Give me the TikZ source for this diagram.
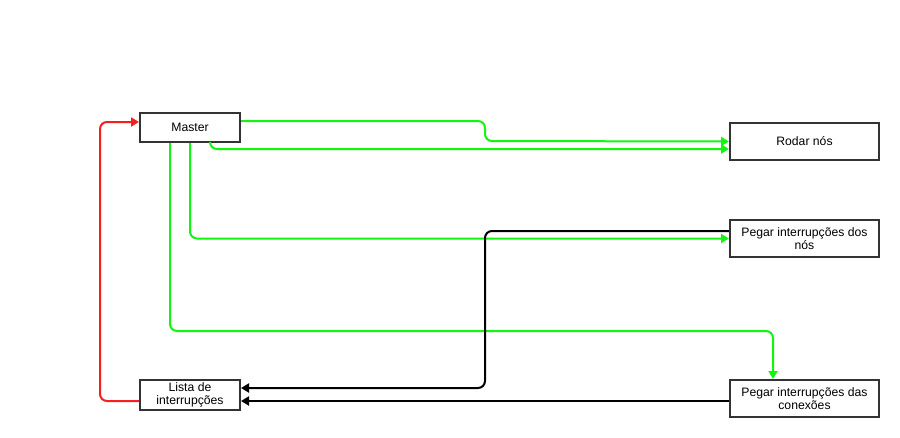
\documentclass[tikz,border=0pt]{standalone}
\usepackage{fontspec}
\setmainfont{Liberation Sans}
\usetikzlibrary{arrows.meta,positioning}

\definecolor{boxline}{HTML}{333333}
\definecolor{flowgreen}{HTML}{11F511}
\definecolor{flowred}{HTML}{F51F1F}

\begin{document}
\begin{tikzpicture}[
        x=1pt, y=-1pt,
        box/.style={draw=boxline, line width=2pt, fill=white, align=center,
          font=\fontsize{12.2}{13.5}\selectfont, inner sep=1pt},
        small/.style={box, minimum width=100pt, minimum height=29pt},
        wide/.style={box, minimum width=149pt, minimum height=37pt},
        arr/.style={-{Triangle[length=8pt,width=9pt]}, line width=2pt, rounded corners=7pt},
        garr/.style={arr, draw=flowgreen},
        karr/.style={arr, draw=black}
      ]
        \useasboundingbox (0,0) rectangle (900,437);
        \node[small] (master) at (190,127.5) {Master};
        \node[small, minimum height=30pt] (lista) at (190,395) {Lista de\\interrupções};
        \node[wide] (rodar) at (804.5,141.5) {Rodar nós};
        \node[wide] (dos) at (804.5,238.5) {Pegar interrupções dos\\nós};
        \node[wide] (conex) at (804.5,398.5) {Pegar interrupções das\\conexões};
        % green flows out of the master
        \draw[garr] ([yshift=6.5pt]master.east) -- (485,121) -- (485,141) -- (rodar.west);
        \draw[garr] ([xshift=20pt]master.south) |- ([yshift=-7.5pt]rodar.west);
        \draw[garr] (master.south) |- (dos.west);
        \draw[garr] ([xshift=-20pt]master.south) -- (170,331) -| ([xshift=-31.5pt]conex.north);
        % black flows into the list
        \draw[karr] ([yshift=7.5pt]dos.west) -| (485,388) -- ([yshift=7pt]lista.east);
        \draw[karr] ([yshift=-2.5pt]conex.west) -- ([yshift=-2.5pt]conex.west -| lista.east);
        % red loop back
        \draw[arr, draw=flowred] ([yshift=-6pt]lista.west) -| (100,122) -- ([yshift=5.5pt]master.west);
      \end{tikzpicture}
\end{document}
